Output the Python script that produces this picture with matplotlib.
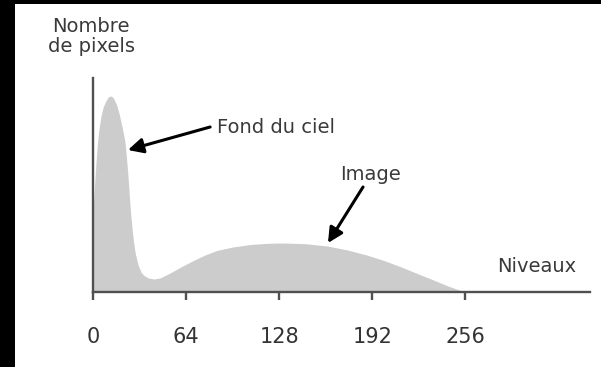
import matplotlib
matplotlib.use("Agg")
import matplotlib.pyplot as plt
from matplotlib.patches import Rectangle

# ---- data ----
levels = [0, 1, 2, 3, 4, 5.5, 7, 8.5, 10, 11, 12, 13, 14, 16, 18, 20, 22, 23, 24, 25, 26,
          27, 28, 29, 31, 33, 35, 38, 42, 46, 53, 61, 69, 77, 85, 96, 108, 120,
          131, 146, 161, 175, 188, 200, 211, 222, 234, 244, 252, 256]
counts = [80, 105, 128, 148, 162, 176, 185, 190, 194, 195.5, 196, 195.5, 194, 188, 178,
          165, 150, 134, 117, 96, 76, 61, 49, 39, 27, 20, 16.5, 14, 13, 14, 19, 25.5,
          31.5, 37, 41.5, 45, 47.5, 48.7, 49, 48.3, 46, 42, 37, 31.5, 25.5, 19, 12,
          6, 1.8, 0]
tick_values = [0, 64, 128, 192, 256]
tick_labels = ["0", "64", "128", "192", "256"]

W, H = 601, 367
fig = plt.figure(figsize=(W / 100, H / 100), dpi=100, facecolor="black")
fig.patches.append(Rectangle((15 / W, 0), 1, (H - 4) / H, transform=fig.transFigure,
                             facecolor="white", edgecolor="none", zorder=-5))

ax = fig.add_axes([93 / W, (H - 292) / H, 497 / W, 214 / H])
ax.set_zorder(2)
ax.patch.set_visible(False)
ax.set_xlim(0, 341.6)
ax.set_ylim(0, 214)

ax.fill_between(levels, counts, 0, color="#cccccc", linewidth=0, zorder=1)

for s in ["top", "right"]:
    ax.spines[s].set_visible(False)
for s in ["left", "bottom"]:
    ax.spines[s].set_linewidth(1.7)
    ax.spines[s].set_color("#505050")
    ax.spines[s].set_zorder(3)

ax.set_yticks([])
ax.set_xticks(tick_values)
ax.set_xticklabels(tick_labels, fontsize=15, color="#333333")
ax.tick_params(axis="x", length=6, width=1.7, color="#505050", pad=19)

txt = dict(fontsize=14, color="#3a3a3a", family="DejaVu Sans")
ax.annotate("", xy=(24, 142), xytext=(80.5, 165),
            arrowprops=dict(arrowstyle="-|>,head_length=0.9,head_width=0.45",
                            color="black", lw=2.2, shrinkA=0, shrinkB=0))
ax.text(85.5, 165, "Fond du ciel", ha="left", va="center", **txt)

ax.annotate("", xy=(161.5, 49), xytext=(185.6, 105),
            arrowprops=dict(arrowstyle="-|>,head_length=0.9,head_width=0.45",
                            color="black", lw=2.2, shrinkA=0, shrinkB=0))
ax.text(190.4, 117, "Image", ha="center", va="center", **txt)

ax.text(305, 25, "Niveaux", ha="center", va="center", **txt)

fig.text(91 / W, 1 - 26 / H, "Nombre", ha="center", va="center", **txt)
fig.text(91 / W, 1 - 47 / H, "de pixels", ha="center", va="center", **txt)

fig.savefig("out.png", dpi=100, facecolor=fig.get_facecolor())
